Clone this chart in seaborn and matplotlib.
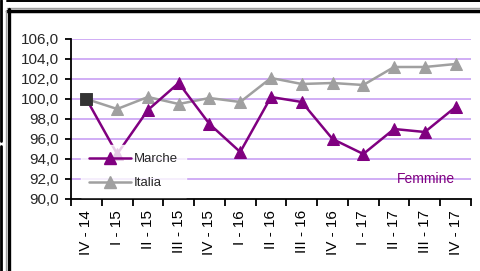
import pandas as pd
import matplotlib
matplotlib.use("Agg")
import matplotlib.pyplot as plt
from matplotlib.lines import Line2D
import seaborn as sns

# data
quarters = ["IV - 14", "I - 15", "II - 15", "III - 15", "IV - 15", "I - 16", "II - 16",
            "III - 16", "IV - 16", "I - 17", "II - 17", "III - 17", "IV - 17"]
marche = [100.0, 94.5, 98.9, 101.6, 97.5, 94.7, 100.2, 99.7, 96.0, 94.5, 97.0, 96.7, 99.2]
italia = [100.0, 99.0, 100.2, 99.5, 100.1, 99.7, 102.1, 101.5, 101.6, 101.4, 103.2, 103.2, 103.5]
y_ticks = [90, 92, 94, 96, 98, 100, 102, 104, 106]

PURPLE = "#800080"
GREY = "#a0a0a0"
GRID = "#c8a0f4"

df = pd.DataFrame({"Quarter": quarters * 2,
                   "Value": marche + italia,
                   "Serie": ["Marche"] * len(quarters) + ["Italia"] * len(quarters)})

sns.set_theme(style="white")
plt.rcParams["font.family"] = ["Liberation Sans", "DejaVu Sans"]

fig = plt.figure(figsize=(4.8, 2.71), dpi=100)
ax = fig.add_axes([71 / 480, 1 - 199 / 271, 400 / 480, 160 / 271])

# gridlines
for v in y_ticks[1:]:
    ax.axhline(v, color=GRID, lw=1.2, zorder=0)

# the base quarter gets a square instead of triangles
later = list(range(1, len(quarters)))
sns.lineplot(data=df[df["Serie"] == "Italia"], x="Quarter", y="Value", ax=ax,
             color=GREY, lw=1.8, marker="^", markersize=8, markeredgecolor=GREY,
             markevery=later, sort=False, zorder=3)
sns.lineplot(data=df[df["Serie"] == "Marche"], x="Quarter", y="Value", ax=ax,
             color=PURPLE, lw=1.8, marker="^", markersize=8, markeredgecolor=PURPLE,
             markevery=later, sort=False, zorder=4)
sns.scatterplot(x=[quarters[0]], y=[marche[0]], ax=ax, marker="s", s=65,
                color="#333333", edgecolor="#333333", zorder=6)

ax.set_xlim(-0.5, len(quarters) - 0.5)
ax.set_ylim(90, 106)
ax.set_yticks(y_ticks)
ax.set_yticklabels([f"{v:.1f}".replace(".", ",") for v in y_ticks], fontsize=11)
ax.set_xticks(range(len(quarters)))
ax.set_xticklabels(quarters, rotation=90, fontsize=11, va="top")
ax.set_xticks([i - 0.5 for i in range(len(quarters) + 1)], minor=True)
ax.tick_params(axis="x", which="major", length=0, pad=8, colors="black")
ax.tick_params(axis="x", which="minor", length=5, width=1.3, color="black", bottom=True)
ax.tick_params(axis="y", length=4, width=1.3, color="black", left=True, pad=5)
ax.set_xlabel("")
ax.set_ylabel("")
for s in ["top", "right"]:
    ax.spines[s].set_visible(False)
for s in ["left", "bottom"]:
    ax.spines[s].set_color("black")
    ax.spines[s].set_linewidth(1.3)

handles = [Line2D([], [], color=PURPLE, lw=1.8, marker="^", markersize=8),
           Line2D([], [], color=GREY, lw=1.8, marker="^", markersize=8)]
leg = ax.legend(handles, ["Marche", "Italia"], loc="upper left",
                bbox_to_anchor=(0.025, 0.337), borderaxespad=0, fontsize=9.5,
                frameon=True, handlelength=3.2, handletextpad=0.2, labelspacing=0.9,
                borderpad=0.6, fancybox=False)
leg.get_frame().set_facecolor("white")
leg.get_frame().set_edgecolor("white")
leg.set_zorder(5)

ax.text(0.96, 0.125, "Femmine", transform=ax.transAxes, ha="right", va="center",
        color=PURPLE, fontsize=10)

# frame decoration around the chart
def hline(y, x0, x1, lw, c):
    fig.add_artist(Line2D([x0 / 480, x1 / 480], [1 - y / 271, 1 - y / 271],
                          lw=lw, color=c, transform=fig.transFigure))

def vline(x, y0, y1, lw, c):
    fig.add_artist(Line2D([x / 480, x / 480], [1 - y0 / 271, 1 - y1 / 271],
                          lw=lw, color=c, transform=fig.transFigure))

hline(0.7, 7, 480, 1.4, "black")
hline(7.8, 7, 480, 1.0, GREY)
hline(10.5, 7, 480, 2.5, "black")
vline(1.2, 0, 141, 2.0, "black")
vline(1.2, 146, 271, 2.0, "black")
vline(6.3, 10, 271, 1.0, GREY)
vline(8.5, 9, 271, 2.4, "black")

fig.savefig("out.png", dpi=100)
